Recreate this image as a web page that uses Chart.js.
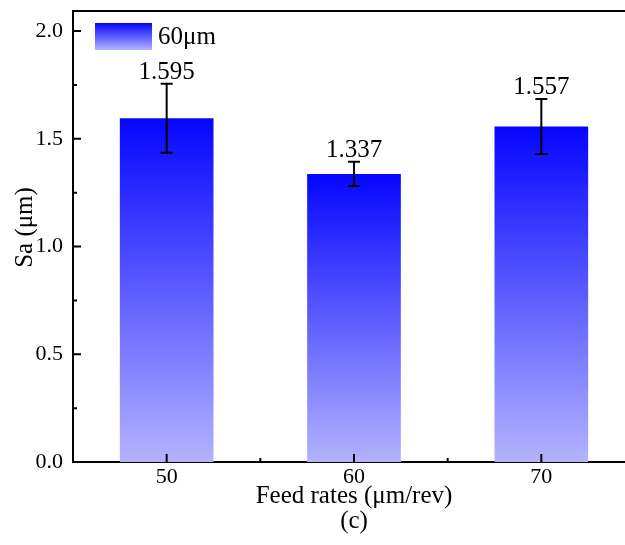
<!DOCTYPE html>
<html>
<head>
<meta charset="utf-8">
<title>Sa vs feed rate</title>
<script src="https://cdn.jsdelivr.net/npm/chart.js@4.4.1/dist/chart.umd.min.js"></script>
<style>
  html, body { margin: 0; padding: 0; background: #fff; overflow: hidden; }
  #wrap { width: 640px; height: 545px; }
</style>
</head>
<body>
<div id="wrap"><canvas id="sa-chart" width="640" height="545"></canvas></div>
<script>
// Surface roughness Sa for each feed rate (60μm series)
const feedRates = [50, 60, 70];
const saValues = [1.595, 1.337, 1.557];
const saErrors = [0.16, 0.056, 0.128];
const seriesLabel = '60μm';
const yTitle = 'Sa (μm)';

const yTicks = [0, 0.5, 1.0, 1.5, 2.0];
const yMinorTicks = [0.25, 0.75, 1.25, 1.75];
const xMinorTicks = [55, 65];

const SERIF = '"Liberation Serif", "Times New Roman", serif';
const TOP_BLUE = '#0505ff';
const BOTTOM_BLUE = '#b3b3ff';

function barGradient(ctx, top, bottom) {
  const g = ctx.createLinearGradient(0, top, 0, bottom);
  g.addColorStop(0, TOP_BLUE);
  g.addColorStop(1, BOTTOM_BLUE);
  return g;
}

// error bars, value labels, inward ticks, top frame line, y title and the legend box
const overlay = {
  id: 'overlay',
  afterDatasetsDraw(chart) {
    const { ctx, chartArea: a, scales: { x, y } } = chart;
    ctx.save();
    ctx.strokeStyle = '#000';
    ctx.fillStyle = '#000';
    ctx.lineWidth = 2;

    feedRates.forEach((rate, i) => {
      const px = x.getPixelForValue(rate);
      const hi = y.getPixelForValue(saValues[i] + saErrors[i]);
      const lo = y.getPixelForValue(saValues[i] - saErrors[i]);
      ctx.beginPath();
      ctx.moveTo(px, hi); ctx.lineTo(px, lo);
      ctx.moveTo(px - 6, hi); ctx.lineTo(px + 6, hi);
      ctx.moveTo(px - 6, lo); ctx.lineTo(px + 6, lo);
      ctx.stroke();

      ctx.font = '25px ' + SERIF;
      ctx.textAlign = 'center';
      ctx.textBaseline = 'alphabetic';
      ctx.fillText(saValues[i].toFixed(3), px, hi - 5);
    });

    // ticks point into the plot
    ctx.beginPath();
    yTicks.forEach(v => {
      const py = y.getPixelForValue(v);
      ctx.moveTo(a.left, py); ctx.lineTo(a.left + 8, py);
    });
    yMinorTicks.forEach(v => {
      const py = y.getPixelForValue(v);
      ctx.moveTo(a.left, py); ctx.lineTo(a.left + 4, py);
    });
    feedRates.forEach(v => {
      const px = x.getPixelForValue(v);
      ctx.moveTo(px, a.bottom); ctx.lineTo(px, a.bottom - 8);
    });
    xMinorTicks.forEach(v => {
      const px = x.getPixelForValue(v);
      ctx.moveTo(px, a.bottom); ctx.lineTo(px, a.bottom - 4);
    });
    ctx.stroke();

    // top side of the frame
    ctx.beginPath();
    ctx.moveTo(a.left, a.top); ctx.lineTo(a.right, a.top);
    ctx.stroke();

    // y axis title, sitting a little above the plot's middle
    ctx.save();
    ctx.translate(25, (a.top + a.bottom) / 2 - 9);
    ctx.rotate(-Math.PI / 2);
    ctx.font = '25px ' + SERIF;
    ctx.textAlign = 'center';
    ctx.textBaseline = 'middle';
    ctx.fillText(yTitle, 0, 0);
    ctx.restore();

    // legend
    const bx = a.left + 22, by = a.top + 12, bw = 57, bh = 27;
    ctx.fillStyle = barGradient(ctx, by, by + bh);
    ctx.fillRect(bx, by, bw, bh);
    ctx.fillStyle = '#000';
    ctx.font = '25px ' + SERIF;
    ctx.textAlign = 'left';
    ctx.textBaseline = 'middle';
    ctx.fillText(chart.data.datasets[0].label, bx + bw + 6, by + bh / 2 + 1);
    ctx.restore();
  }
};

new Chart(document.getElementById('sa-chart'), {
  type: 'bar',
  data: {
    datasets: [{
      label: seriesLabel,
      data: feedRates.map((rate, i) => ({ x: rate, y: saValues[i] })),
      backgroundColor: (c) => {
        const chart = c.chart;
        if (!chart.chartArea || c.raw == null) return TOP_BLUE;
        const y = chart.scales.y;
        return barGradient(chart.ctx, y.getPixelForValue(c.raw.y), y.getPixelForValue(0));
      },
      borderWidth: 0,
      categoryPercentage: 1,
      barPercentage: 0.5
    }]
  },
  plugins: [overlay],
  options: {
    responsive: false,
    animation: false,
    layout: { padding: { top: 11, right: 5, left: 0, bottom: 0 } },
    plugins: {
      legend: { display: false },
      tooltip: { enabled: false }
    },
    scales: {
      x: {
        type: 'linear',
        min: 45,
        max: 75,
        offset: false,
        grid: { display: false, drawTicks: false },
        border: { display: true, color: '#000', width: 2 },
        afterBuildTicks: (s) => { s.ticks = feedRates.map(v => ({ value: v })); },
        afterFit: (s) => { s.height = 83; s.paddingLeft = 0; s.paddingRight = 0; },
        ticks: {
          color: '#000',
          padding: 2,
          font: { family: SERIF, size: 22 }
        },
        title: {
          display: true,
          text: ['Feed rates (μm/rev)', '(c)'],
          color: '#000',
          padding: { top: 0, bottom: 11 },
          font: { family: SERIF, size: 25, lineHeight: 1.0 }
        }
      },
      y: {
        min: 0,
        max: 2.093,
        grid: { display: false, drawTicks: false },
        border: { display: true, color: '#000', width: 2 },
        afterBuildTicks: (s) => { s.ticks = yTicks.map(v => ({ value: v })); },
        afterFit: (s) => { s.width = 73; s.paddingTop = 0; s.paddingBottom = 0; },
        ticks: {
          color: '#000',
          padding: 10,
          font: { family: SERIF, size: 22 },
          callback: (v) => v.toFixed(1)
        }
      }
    }
  }
});
</script>
</body>
</html>
